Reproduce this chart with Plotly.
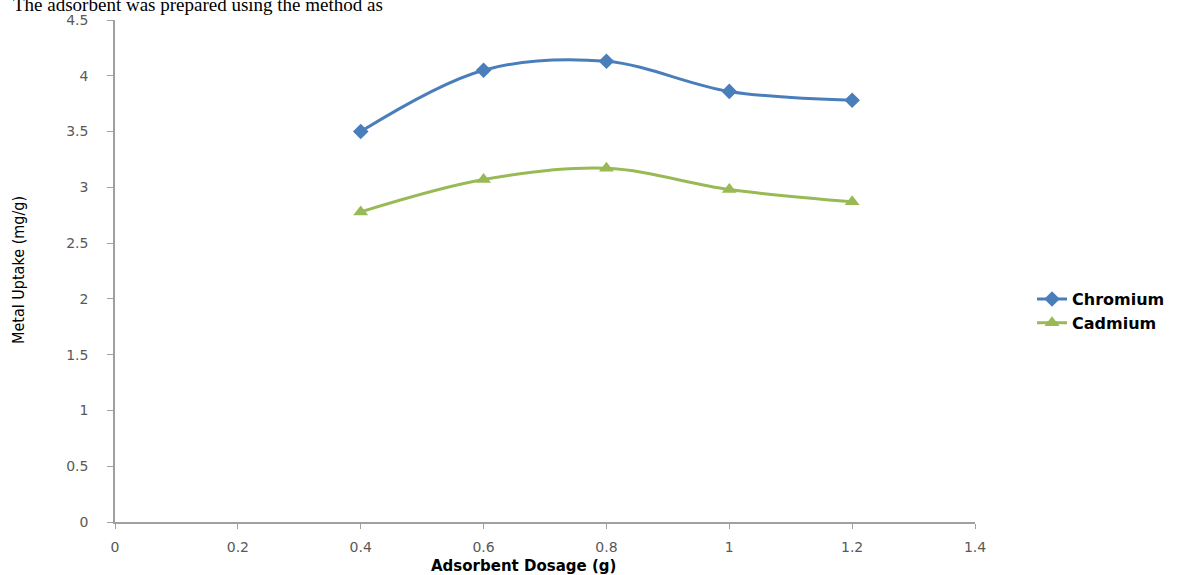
import plotly.graph_objects as go

dosage = [0.4, 0.6, 0.8, 1.0, 1.2]
chromium = [3.50, 4.05, 4.13, 3.86, 3.78]
cadmium = [2.78, 3.07, 3.17, 2.98, 2.87]

x_ticks = [0, 0.2, 0.4, 0.6, 0.8, 1, 1.2, 1.4]
y_ticks = [0, 0.5, 1, 1.5, 2, 2.5, 3, 3.5, 4, 4.5]

fig = go.Figure()
fig.add_trace(go.Scatter(
    x=dosage, y=chromium, name="Chromium", mode="lines+markers",
    line=dict(color="#4A7EBB", width=3, shape="spline", smoothing=1.0),
    marker=dict(symbol="diamond", size=12, color="#4A7EBB"),
))
fig.add_trace(go.Scatter(
    x=dosage, y=cadmium, name="Cadmium", mode="lines+markers",
    line=dict(color="#98B954", width=3, shape="spline", smoothing=1.0),
    marker=dict(symbol="triangle-up", size=13, color="#98B954"),
))

wide = "DejaVu Sans, Verdana, sans-serif"
tick_font = dict(family=wide, size=14, color="#595959")

fig.update_layout(
    width=1189, height=575,
    margin=dict(l=115, r=214, t=16, b=53),
    paper_bgcolor="white", plot_bgcolor="white",
    showlegend=True,
    legend=dict(
        x=1.0663, y=0.42, xanchor="left", yanchor="middle",
        font=dict(family=wide, size=16, color="black", weight="bold"),
        bgcolor="rgba(0,0,0,0)", tracegroupgap=0,
    ),
    xaxis=dict(
        range=[0, 1.4], tickvals=x_ticks, ticktext=[f"{v:g}" for v in x_ticks],
        showgrid=False, zeroline=False, showline=True, linecolor="#A0A0A0", linewidth=1.5,
        ticks="outside", ticklen=5, tickcolor="#A0A0A0", tickfont=tick_font,
        ticklabelstandoff=6,
    ),
    yaxis=dict(
        range=[0, 4.5], tickvals=y_ticks, ticktext=[f"{v:g}" for v in y_ticks],
        showgrid=False, zeroline=False, showline=True, linecolor="#A0A0A0", linewidth=1.5,
        ticks="outside", ticklen=6, tickcolor="#A0A0A0", tickfont=tick_font,
        ticklabelstandoff=16,
    ),
)

# axis titles
fig.add_annotation(
    text="<b>Adsorbent Dosage (g)</b>",
    xref="paper", yref="paper", x=(523 - 115) / 860, y=0, yshift=-44,
    xanchor="center", yanchor="middle", showarrow=False,
    font=dict(family=wide, size=15, color="black"),
)
fig.add_annotation(
    text="Metal Uptake (mg/g)", textangle=-90,
    xref="paper", yref="paper", x=0, xshift=-97, y=(522 - 268) / 506,
    xanchor="center", yanchor="middle", showarrow=False,
    font=dict(family="Liberation Sans Narrow, DejaVu Sans Condensed, sans-serif",
              size=16, color="black"),
)

# running text above the chart, partly cut off by the page top
fig.add_annotation(
    text="The adsorbent was prepared using the method as",
    xref="paper", yref="paper", x=-0.121, y=1.0, xanchor="left", yanchor="bottom",
    yshift=3, showarrow=False,
    font=dict(family="Liberation Serif, Times New Roman, serif", size=19, color="black"),
)

fig.write_html("out.html")
